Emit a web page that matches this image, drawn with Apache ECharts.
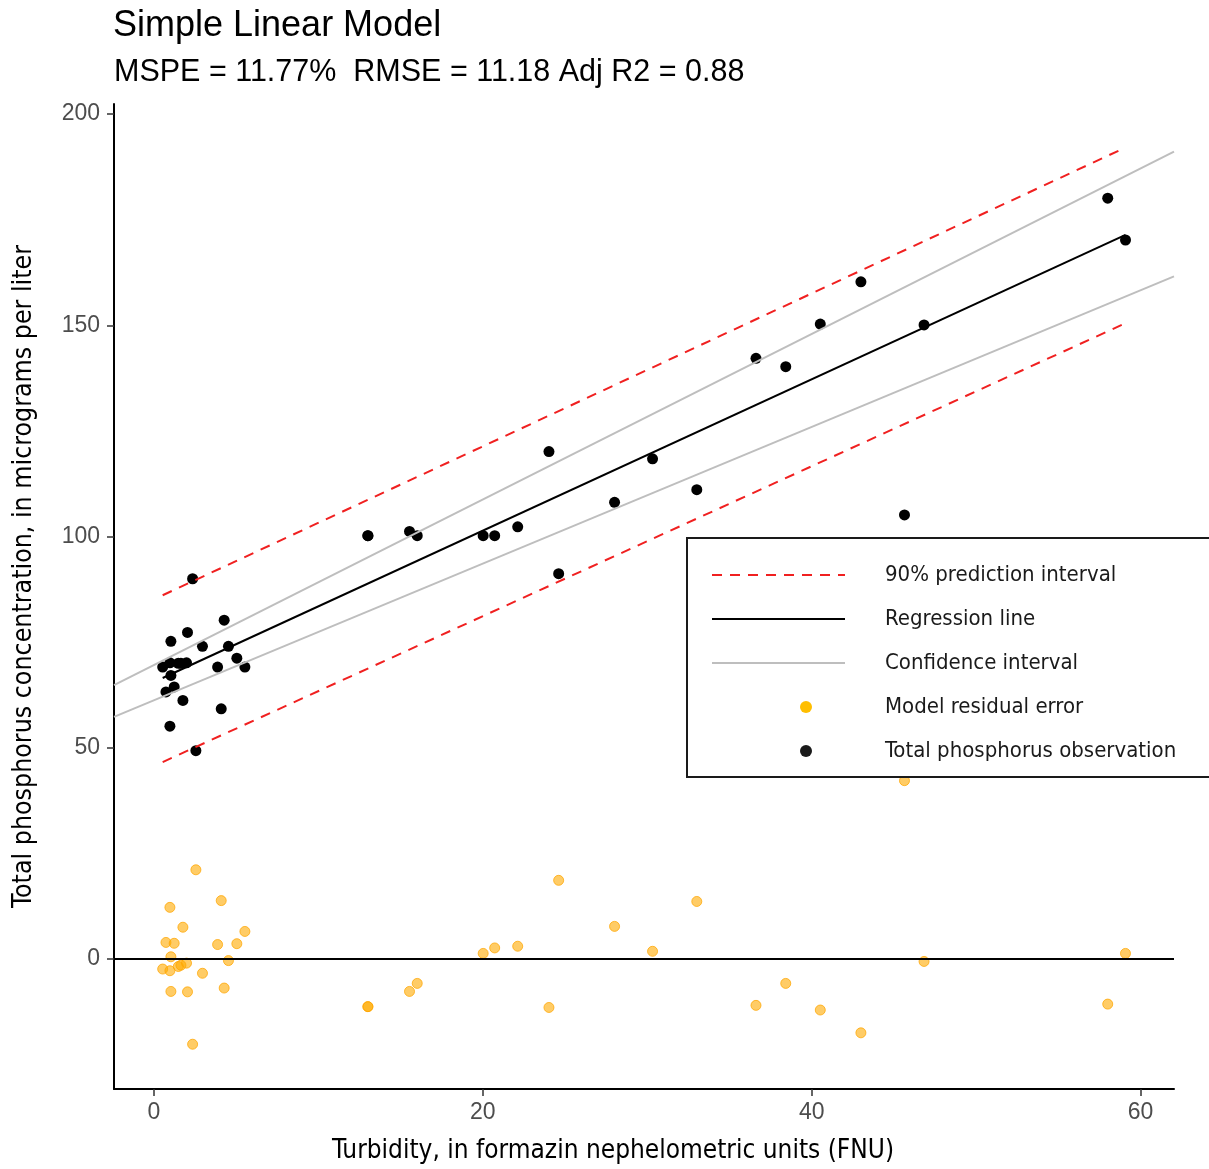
<!DOCTYPE html>
<html>
<head>
<meta charset="utf-8">
<script src="https://cdn.jsdelivr.net/npm/echarts@6/dist/echarts.min.js"></script>
<style>
html,body{margin:0;padding:0;background:#fff;}
#chart{width:1209px;height:1169px;}
</style>
</head>
<body>
<div id="chart"></div>
<script>
// ---- data ----
var turbidity = [0.53, 0.73, 0.97, 1.03, 1.03, 1.23, 0.97, 1.48, 1.64, 1.98, 1.76, 2.04, 2.35, 2.55, 2.95, 3.87, 4.09, 4.27, 4.53, 5.04, 5.53,
  13.01, 13.01, 15.54, 16.01, 20.02, 20.72, 22.12, 24.02, 24.61, 28.01, 30.32, 33.01, 36.61, 38.42, 40.52, 42.99, 45.64, 46.83, 58.0, 59.08];
var phosphorus = [69.1, 63.2, 55.1, 75.2, 67.1, 64.4, 70.1, 70.0, 70.0, 70.1, 61.2, 77.3, 90.0, 49.3, 74.0, 69.1, 59.2, 80.2, 74.0, 71.2, 69.1,
  100.2, 100.2, 101.2, 100.2, 100.2, 100.2, 102.3, 120.1, 91.2, 108.1, 118.4, 111.1, 142.2, 140.2, 150.3, 160.3, 105.1, 150.1, 180.1, 170.2];
var residual = [-2.4, 3.9, 12.2, -7.7, 0.5, 3.7, -2.8, -1.8, -1.5, -1.0, 7.5, -7.8, -20.2, 21.1, -3.4, 3.4, 13.8, -6.9, -0.4, 3.6, 6.5,
  -11.3, -11.3, -7.7, -5.8, 1.3, 2.6, 3.0, -11.5, 18.6, 7.7, 1.8, 13.6, -11.0, -5.8, -12.1, -17.5, 42.2, -0.6, -10.7, 1.3];

var regX = [0.53, 59.08], regY = [66.5, 171.4];
var piX = [0.53, 59.08], piUpper = [86.1, 192.1], piLower = [46.6, 150.5];
var ciX = [-2.43, 62.03], ciUpper = [64.8, 191.1], ciLower = [57.3, 161.6];

var xRange = [-2.43, 62.03], yRange = [-30.8, 202.4];
var xTicks = [0, 20, 40, 60];
var yTicks = [0, 50, 100, 150, 200];

var titleText = 'Simple Linear Model';
var subtitleText = 'MSPE = 11.77%  RMSE = 11.18 Adj R2 = 0.88';
var xName = 'Turbidity, in formazin nephelometric units (FNU)';
var yName = 'Total phosphorus concentration, in micrograms per liter';
var names = ['90% prediction interval', 'Regression line', 'Confidence interval', 'Model residual error', 'Total phosphorus observation'];

// ---- helpers ----
function pairs(xs, ys) { return xs.map(function (x, i) { return [x, ys[i]]; }); }

var narrow = '"Liberation Sans Narrow", "Arial Narrow", "DejaVu Sans Condensed", sans-serif';
var regular = '"Liberation Sans", Arial, sans-serif';

var chart = echarts.init(document.getElementById('chart'), null, { renderer: 'canvas' });

var lineCommon = { type: 'line', symbol: 'none', silent: true, z: 5, clip: true };
var hiddenSym = { opacity: 0, color: 'rgba(0,0,0,0)', borderWidth: 0 };
// legend key: a dot placed right of the key centre (box 133 x 13)
var dotIcon = 'path://M0,0M133,13M88,6.5A6,6 0 1,0 100,6.5A6,6 0 1,0 88,6.5Z';

chart.setOption({
  animation: false,
  backgroundColor: '#fff',
  title: [
    { text: titleText, left: 113, top: 8, padding: 0,
      textStyle: { fontFamily: regular, fontSize: 36, fontWeight: 'normal', color: '#000' } },
    { text: subtitleText, left: 114, top: 57, padding: 0,
      textStyle: { fontFamily: regular, fontSize: 30.5, fontWeight: 'normal', color: '#000' } }
  ],
  grid: { left: 114, top: 104, width: 1060, height: 985, containLabel: false },
  xAxis: {
    type: 'value', min: xRange[0], max: xRange[1],
    name: xName, nameLocation: 'middle', nameGap: 49,
    nameTextStyle: { fontFamily: narrow, fontSize: 26, color: '#000', padding: [0, 62, 0, 0] },
    axisLine: { show: true, onZero: false, lineStyle: { color: '#000', width: 2 } },
    axisTick: { show: true, length: 7, customValues: xTicks, lineStyle: { color: '#333', width: 1.5 } },
    axisLabel: { customValues: xTicks, margin: 12, fontFamily: regular, fontSize: 23, color: '#4d4d4d' },
    splitLine: { show: false }
  },
  yAxis: {
    type: 'value', min: yRange[0], max: yRange[1],
    name: yName, nameLocation: 'middle', nameGap: 76, nameRotate: 90,
    nameTextStyle: { fontFamily: narrow, fontSize: 26.5, color: '#000', padding: [0, 0, 0, 40] },
    axisLine: { show: true, onZero: false, lineStyle: { color: '#000', width: 2 } },
    axisTick: { show: true, length: 7, customValues: yTicks, lineStyle: { color: '#333', width: 1.5 } },
    axisLabel: { customValues: yTicks, margin: 14, fontFamily: regular, fontSize: 23, color: '#4d4d4d' },
    splitLine: { show: false }
  },
  legend: {
    show: true, orient: 'vertical', left: 687, top: 538,
    itemWidth: 133, itemHeight: 13, itemGap: 14,
    padding: [22, 60, 11, 24],
    borderColor: '#1a1a1a', borderWidth: 2, borderRadius: 0, backgroundColor: '#fff',
    selectedMode: false,
    textStyle: { fontFamily: narrow, fontSize: 22, color: '#1a1a1a', lineHeight: 30, padding: [0, 0, 0, 35] },
    data: [
      { name: names[0], itemStyle: hiddenSym },
      { name: names[1], itemStyle: hiddenSym },
      { name: names[2], itemStyle: hiddenSym },
      { name: names[3], icon: dotIcon, itemStyle: { color: '#FFBE00', opacity: 1, borderWidth: 0 } },
      { name: names[4], icon: dotIcon, itemStyle: { color: '#1a1a1a', opacity: 1, borderWidth: 0 } }
    ]
  },
  series: [
    {
      name: names[3], type: 'scatter', symbolSize: 10, z: 2, silent: true,
      itemStyle: { color: 'rgba(255,170,0,0.6)', borderColor: 'rgba(255,165,0,0.75)', borderWidth: 1, opacity: 1 },
      data: pairs(turbidity, residual),
      markLine: {
        silent: true, symbol: ['none', 'none'], label: { show: false },
        lineStyle: { color: '#000', width: 2, type: 'solid' },
        data: [{ yAxis: 0 }]
      }
    },
    {
      name: names[4], type: 'scatter', symbolSize: 11, z: 3, silent: true,
      itemStyle: { color: '#000', opacity: 1 },
      data: pairs(turbidity, phosphorus)
    },
    Object.assign({}, lineCommon, { name: names[2], data: pairs(ciX, ciUpper), lineStyle: { color: '#bebebe', width: 2 }, itemStyle: { color: '#bebebe' } }),
    Object.assign({}, lineCommon, { name: names[2], data: pairs(ciX, ciLower), lineStyle: { color: '#bebebe', width: 2 }, itemStyle: { color: '#bebebe' } }),
    Object.assign({}, lineCommon, { name: names[1], data: pairs(regX, regY), lineStyle: { color: '#000', width: 2 }, itemStyle: { color: '#000' } }),
    Object.assign({}, lineCommon, { name: names[0], data: pairs(piX, piUpper), lineStyle: { color: '#f02020', width: 2, type: [10, 8] }, itemStyle: { color: '#f02020' } }),
    Object.assign({}, lineCommon, { name: names[0], data: pairs(piX, piLower), lineStyle: { color: '#f02020', width: 2, type: [10, 8] }, itemStyle: { color: '#f02020' } })
  ]
});
</script>
</body>
</html>
